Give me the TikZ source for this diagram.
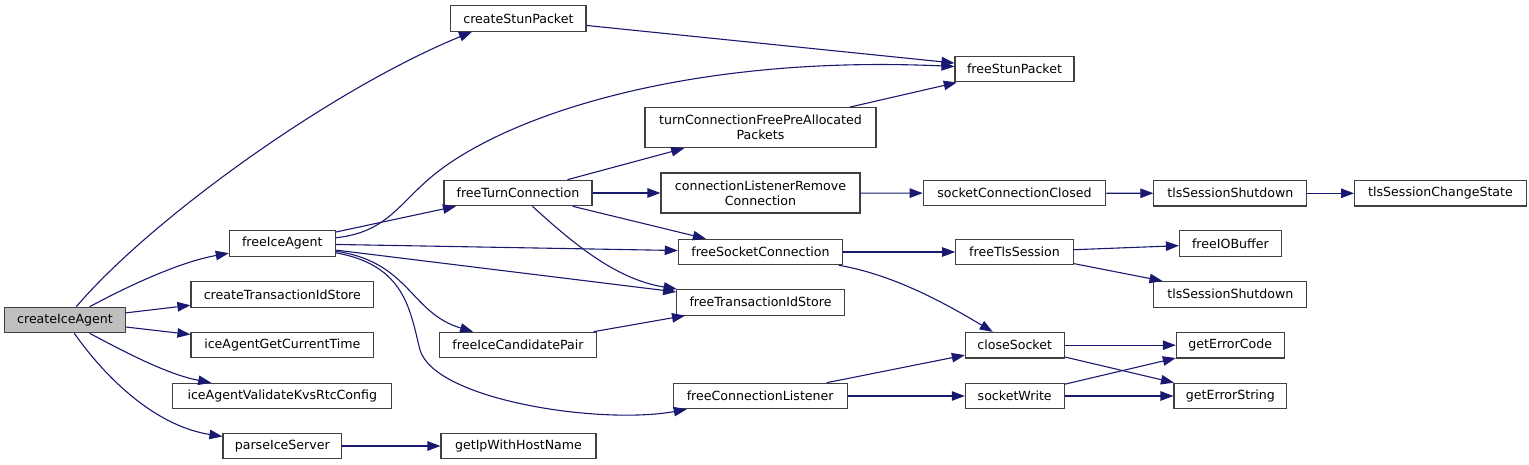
\documentclass[tikz,border=0pt]{standalone}
\usepackage{fontspec}
\setmainfont{DejaVu Sans}
\usetikzlibrary{arrows.meta}
\definecolor{midnight}{HTML}{191970}
\definecolor{grey25}{gray}{0.25}
\definecolor{grey75}{gray}{0.75}

\begin{document}
\begin{tikzpicture}[x=1pt, y=-1pt,
    fnbox/.style={rectangle, draw=grey25, line width=1.1pt, fill=white, minimum height=25.5pt,
                  inner sep=0pt, align=center, font=\fontsize{12.6}{15}\selectfont},
    rootbox/.style={fnbox, fill=grey75},
    tallbox/.style={fnbox, minimum height=40pt},
    call/.style={-{Triangle[length=13pt, width=9.5pt]}, line width=1.1pt, draw=midnight}
]
\useasboundingbox (0,0) rectangle (1529,465);

%% All nodes placed at explicit absolute coordinates (pixels) %%

% Root
\node[rootbox, minimum width=120.6pt] (create) at (65,320) {createIceAgent};

% Column 1
\node[fnbox, minimum width=106pt]   (freeAgent) at (282.3,243.5) {freeIceAgent};
\node[fnbox, minimum width=182.7pt] (txStore)   at (282.3,294.5) {createTransactionIdStore};
\node[fnbox, minimum width=182.7pt] (curTime)   at (282.3,345)   {iceAgentGetCurrentTime};
\node[fnbox, minimum width=219pt]   (validate)  at (282.3,396)   {iceAgentValidateKvsRtcConfig};
\node[fnbox, minimum width=118.6pt] (parse)     at (282.3,446)   {parseIceServer};

% Column 2
\node[fnbox, minimum width=135.2pt] (stunPkt)  at (518.4,18.5) {createStunPacket};
\node[fnbox, minimum width=148pt]   (freeTurn) at (518,193)    {freeTurnConnection};
\node[fnbox, minimum width=157.4pt] (freePair) at (518,345)    {freeIceCandidatePair};
\node[fnbox, minimum width=155pt]   (hostName) at (518.5,446)  {getIpWithHostName};

% Column 3
\node[tallbox, minimum width=231pt]   (turnPkts)     at (760.5,127.7) {turnConnectionFreePreAllocated\\Packets};
\node[tallbox, minimum width=199pt]   (removeConn)   at (760.5,193)   {connectionListenerRemove\\Connection};
\node[fnbox, minimum width=164.4pt]   (freeSock)     at (760.5,252)   {freeSocketConnection};
\node[fnbox, minimum width=167.6pt]   (freeTxStore)  at (760.5,302.3) {freeTransactionIdStore};
\node[fnbox, minimum width=173.7pt]   (freeListener) at (760.2,396)   {freeConnectionListener};

% Column 4
\node[fnbox, minimum width=119pt]   (freeStun)   at (1014.5,69.2)  {freeStunPacket};
\node[fnbox, minimum width=182.5pt] (connClosed) at (1014.5,193.2) {socketConnectionClosed};
\node[fnbox, minimum width=117.6pt] (freeTls)    at (1014.5,252)   {freeTlsSession};
\node[fnbox, minimum width=98.7pt]  (closeSock)  at (1014.7,345.2) {closeSocket};
\node[fnbox, minimum width=98.7pt]  (sockWrite)  at (1014.7,396)   {socketWrite};

% Column 5 and 6
\node[fnbox, minimum width=153pt]   (tlsDown)     at (1230.4,193.3) {tlsSessionShutdown};
\node[fnbox, minimum width=171.8pt] (changeState) at (1440.5,193.3) {tlsSessionChangeState};
\node[fnbox, minimum width=102pt]   (freeBuf)     at (1230.4,243.7) {freeIOBuffer};
\node[fnbox, minimum width=153pt]   (tlsDown2)    at (1230.4,294.3) {tlsSessionShutdown};
\node[fnbox, minimum width=107.7pt] (errCode)     at (1230.2,345.2) {getErrorCode};
\node[fnbox, minimum width=112.8pt] (errString)   at (1230.4,396)   {getErrorString};

%% Calls %%

% createIceAgent
\draw[call] (create) .. controls (150,220) and (330,90) .. (stunPkt.196);
\draw[call] (create) .. controls (130,285) and (180,262) .. (freeAgent);
\draw[call] (create) -- (txStore);
\draw[call] (create) -- (curTime);
\draw[call] (create) .. controls (130,355) and (170,375) .. (validate);
\draw[call] (create) .. controls (100,370) and (150,425) .. (parse);

\draw[call] (parse)   -- (hostName);
\draw[call] (stunPkt) -- (freeStun);

% freeIceAgent
\draw[call] (freeAgent) .. controls (390,232) and (400,200) .. (440,170)
                        .. controls (520,110) and (700,55) .. (freeStun);
\draw[call] (freeAgent) -- (freeTurn);
\draw[call] (freeAgent) -- (freeSock);
\draw[call] (freeAgent) -- (freeTxStore);
\draw[call] (freeAgent) .. controls (410,262) and (410,313) .. (freePair);
\draw[call] (freeAgent) .. controls (405,265) and (410,310) .. (420,350)
                        .. controls (435,400) and (600,425) .. (freeListener);

% freeTurnConnection
\draw[call] (freeTurn) -- (turnPkts);
\draw[call] (freeTurn) -- (removeConn);
\draw[call] (freeTurn) -- (freeSock);
\draw[call] (freeTurn) .. controls (580,250) and (620,280) .. (freeTxStore);

\draw[call] (turnPkts)   -- (freeStun);
\draw[call] (removeConn) -- (connClosed);
\draw[call] (connClosed) -- (tlsDown);
\draw[call] (tlsDown)    -- (changeState);
\draw[call] (freePair)   -- (freeTxStore);

% sockets and TLS
\draw[call] (freeSock) -- (freeTls);
\draw[call] (freeSock) .. controls (890,274) and (940,300) .. (closeSock);
\draw[call] (freeTls)  -- (freeBuf);
\draw[call] (freeTls)  -- (tlsDown2);
\draw[call] (freeListener) -- (closeSock);
\draw[call] (freeListener) -- (sockWrite);
\draw[call] (closeSock) -- (errCode);
\draw[call] (closeSock) -- (errString);
\draw[call] (sockWrite) -- (errCode);
\draw[call] (sockWrite) -- (errString);

\end{tikzpicture}
\end{document}
